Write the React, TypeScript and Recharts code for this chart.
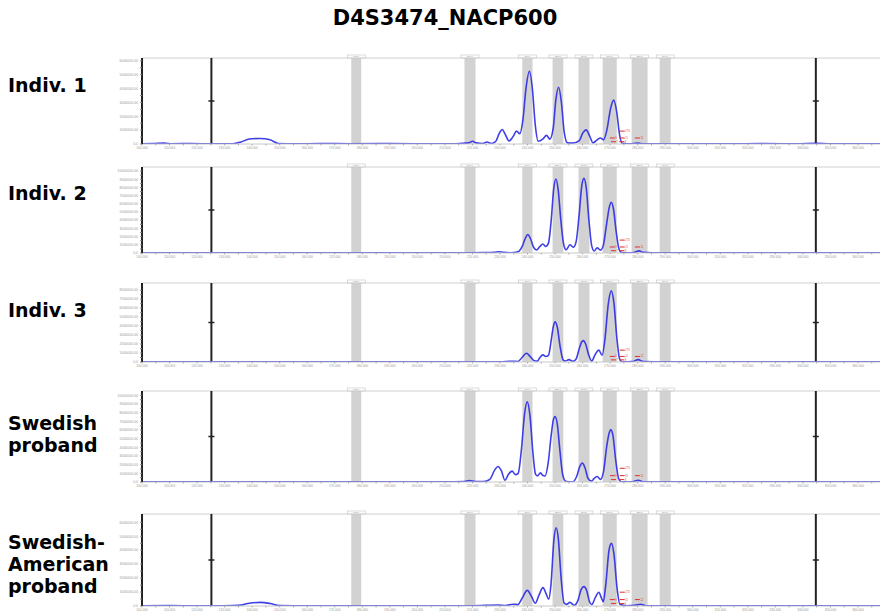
import { ComposedChart, Line, XAxis, YAxis, ReferenceArea, ReferenceLine, Scatter } from "recharts"

const title = "D4S3474_NACP600"
const panelNames = [["Indiv. 1"], ["Indiv. 2"], ["Indiv. 3"], ["Swedish", "proband"], ["Swedish-", "American", "proband"]]

// y-axis top value and number of labelled steps, per panel
const yTops = [6.2, 10.5, 8.8, 10.5, 6.6]
const yTickCounts = [6, 10, 8, 10, 6]

// allele bins (bp)
const bins = [[176.0, 179.6], [217.1, 221.1], [238.1, 241.8], [249.1, 253.0], [258.5, 262.5], [267.3, 272.4], [277.8, 283.6], [288.0, 292.0]]
const binNames = ["176.0", "219.0", "240.0", "251.0", "260.5", "270.0", "280.5", "290.0"]
const sizeMarkers = [125.2, 344.7]
const xTicks = [100, 105, 110, 115, 120, 125, 130, 135, 140, 145, 150, 155, 160, 165, 170, 175, 180, 185, 190, 195, 200, 205, 210, 215, 220, 225, 230, 235, 240, 245, 250, 255, 260, 265, 270, 275, 280, 285, 290, 295, 300, 305, 310, 315, 320, 325, 330, 335, 340, 345, 350, 355, 360, 365]

// red size calls near the last allele (x in bp, level as share of the panel height)
const redMarkX = [274.4, 270.8, 274.4, 271.2, 274.2, 279.9]
const redMarkLevel = [0.15, 0.07, 0.07, 0.027, 0.027, 0.07]
const redMarkText = ["273", "9", "11", "7", "8", "12"]

const indiv1 = [[100,0.02],[104,0.03],[108,0.06],[111,0.02],[118,0.03],[125,0.01],[133,0.02],[136,0.15],[139,0.36],[143,0.4],[146.5,0.3],[149.5,0.04],[155,0.01],[165,0.03],[176,0.02],[190,0.03],[205,0.01],[214,0.02],[218.6,0.08],[220,0.2],[221.4,0.08],[223.8,0.04],[225.3,0.14],[226.8,0.04],[228.5,0.2],[229.7,0.75],[230.8,1.05],[231.9,0.7],[233.3,0.22],[234.8,0.55],[236,0.93],[237.2,0.75],[238.3,1.7],[239.5,4.1],[240.7,5.24],[241.8,3.9],[242.8,1.4],[243.9,0.2],[245.5,0.35],[246.9,0.62],[248.1,0.35],[249.3,1.1],[250.3,3.2],[251.3,4.09],[252.3,3.0],[253.3,0.9],[254.5,0.08],[256.5,0.06],[258.8,0.25],[260.1,0.8],[261.3,1.02],[262.5,0.6],[263.8,0.08],[265.3,0.3],[266.5,0.43],[267.6,0.3],[268.8,1.0],[270.2,2.6],[271.3,3.16],[272.4,2.3],[273.4,0.7],[274.4,0.05],[277,0.01],[280.2,0.06],[282,0.01],[295,0.02],[310,0.01],[325,0.03],[338,0.01],[344.7,0.05],[350,0.01],[360,0.02],[368,0.01]]
const indiv2 = [[100,0.03],[112,0.02],[125,0.01],[140,0.03],[160,0.02],[180,0.01],[200,0.02],[215,0.01],[224,0.05],[228,0.1],[229.6,0.16],[231.2,0.08],[234,0.03],[236.5,0.15],[238.2,0.9],[239.2,1.8],[240.1,2.26],[241,1.8],[242.2,0.7],[243.3,0.37],[244.5,0.8],[245.6,1.1],[246.6,0.8],[247.6,1.2],[248.6,4.0],[249.5,7.8],[250.3,9.03],[251.1,7.8],[252.1,4.0],[253.1,1.1],[254,0.4],[255.4,1.0],[256.6,0.7],[257.6,1.3],[258.7,4.5],[259.7,8.2],[260.5,9.11],[261.3,8.0],[262.3,4.0],[263.3,0.9],[264.2,0.25],[265.3,0.63],[266.5,0.35],[267.5,0.9],[268.7,3.5],[269.7,5.6],[270.4,6.2],[271.2,5.4],[272.2,2.6],[273.2,0.5],[274.2,0.05],[277,0.02],[279,0.1],[280.5,0.26],[282,0.08],[285,0.02],[300,0.01],[320,0.02],[345,0.01],[368,0.02]]
const indiv3 = [[100,0.02],[130,0.01],[160,0.02],[200,0.01],[220,0.02],[230,0.03],[234.4,0.09],[236.5,0.06],[238,0.5],[239.6,0.97],[241,0.6],[242.4,0.15],[243.6,0.1],[244.5,0.5],[245.6,0.79],[246.6,0.62],[247.6,0.75],[248.6,2.4],[249.4,4.0],[250,4.49],[250.8,3.9],[251.8,1.8],[252.9,0.25],[253.7,0.1],[255,0.26],[256.5,0.08],[257.6,0.3],[258.8,1.5],[259.7,2.25],[260.3,2.38],[261.1,2.0],[262.2,0.8],[263.3,0.1],[264.5,0.8],[265.9,1.32],[267.1,0.75],[268.1,2.5],[269.3,6.4],[270.4,7.92],[271.4,6.5],[272.4,2.8],[273.4,0.4],[274.3,0.03],[278,0.05],[280.2,0.26],[282,0.05],[290,0.01],[310,0.02],[340,0.01],[368,0.02]]
const swedish = [[100,0.03],[130,0.02],[160,0.01],[190,0.02],[210,0.01],[217,0.06],[219,0.16],[221,0.05],[224,0.05],[226.3,0.3],[228.1,1.4],[229.3,1.79],[230.5,1.3],[231.8,0.2],[233.1,0.9],[234.4,1.26],[235.6,0.85],[236.6,1.0],[237.8,3.8],[238.9,7.8],[239.9,9.24],[240.9,7.6],[241.9,3.6],[242.9,0.9],[243.6,0.7],[244.7,1.05],[245.6,0.75],[246.4,0.7],[247.5,2.2],[248.6,5.4],[249.4,7.2],[250,7.56],[250.8,6.7],[251.8,3.5],[252.8,0.8],[254,0.05],[256.5,0.03],[257.8,0.6],[259,1.8],[259.9,2.2],[260.8,1.7],[262,0.4],[263.2,0.1],[264.3,0.45],[265.3,0.63],[266.5,0.3],[267.6,1.2],[268.8,4.2],[269.7,5.7],[270.2,6.04],[271,5.4],[272,2.6],[273,0.5],[274,0.03],[278,0.03],[280.2,0.21],[282,0.03],[300,0.02],[330,0.01],[368,0.02]]
const swedishAmerican = [[100,0.02],[110,0.03],[120,0.01],[130,0.02],[135,0.05],[139,0.2],[143,0.26],[146.5,0.18],[150,0.03],[160,0.01],[175,0.02],[200,0.01],[220,0.02],[229.5,0.07],[232,0.03],[234.8,0.13],[236.5,0.1],[238,0.55],[239.9,1.12],[241.4,0.7],[242.8,0.2],[244.2,0.8],[245.6,1.32],[246.8,0.85],[247.7,0.48],[248.5,1.5],[249.6,4.8],[250.4,5.61],[251.2,4.8],[252.2,2.0],[253.3,0.2],[254.2,0.12],[255.4,0.26],[257,0.05],[258.3,0.4],[259.5,1.2],[260.5,1.39],[261.5,1.1],[262.5,0.3],[263.3,0.1],[264.6,0.6],[265.9,0.99],[266.8,0.6],[267.5,0.3],[268.4,1.5],[269.6,4.0],[270.5,4.49],[271.4,3.7],[272.5,1.3],[273.6,0.1],[276,0.02],[279,0.05],[281.1,0.13],[283,0.02],[300,0.01],[330,0.02],[368,0.01]]

const traces = [indiv1, indiv2, indiv3, swedish, swedishAmerican]

// plot-area top / baseline in page pixels, and first label line centre
const frames = [
  { top: 58, bottom: 144, labelY: 85 },
  { top: 167, bottom: 253, labelY: 193 },
  { top: 283, bottom: 362, labelY: 310 },
  { top: 391, bottom: 482, labelY: 423 },
  { top: 514, bottom: 606, labelY: 542 },
]

const tinyFont = "Arial, sans-serif"

function RedMark(p: any) {
  const { cx, cy, payload } = p
  return (
    <g>
      <line x1={cx - 2.5} x2={cx + 2.5} y1={cy} y2={cy} stroke="#e23a3a" strokeWidth={1.1} />
      <text x={cx + 3} y={cy + 1} fontSize={2.6} fill="#e23a3a" fontFamily={tinyFont}>{payload.t}</text>
    </g>
  )
}

function Panel({ idx }: { idx: number }) {
  const f = frames[idx]
  const yTop = yTops[idx]
  const mt = 6
  const xh = 5
  const h = f.bottom - f.top + mt + xh
  const yTicks: number[] = []
  for (let i = 0; i <= yTickCounts[idx] * 2; i++) yTicks.push(i / 2)
  const data = traces[idx].map(([x, y]) => ({ x, y }))
  const marks = redMarkX.map((x, i) => ({ x, y: redMarkLevel[i] * yTop, t: redMarkText[i] }))
  return (
    <div style={{ position: "absolute", left: 0, top: f.top - mt }}>
      <ComposedChart width={883} height={h} margin={{ top: mt, right: 3, bottom: 0, left: 112 }}>
        <XAxis type="number" dataKey="x" domain={[100, 368]} ticks={xTicks} interval={0} allowDataOverflow
          height={xh} tickSize={1.5} axisLine={{ stroke: "#c8c8c8" }} tickLine={{ stroke: "#aaa" }}
          tick={{ fontSize: 3.2, fill: "#999", fontFamily: tinyFont, dy: -1 }}
          tickFormatter={(v: number) => (v % 10 === 0 ? v.toFixed(3) : "")} />
        <YAxis type="number" domain={[0, yTop]} ticks={yTicks} interval={0} allowDataOverflow width={30}
          tickSize={2} axisLine={{ stroke: "#222", strokeWidth: 2 }} tickLine={{ stroke: "#888" }}
          tick={{ fontSize: 3.5, fill: "#999", fontFamily: tinyFont }}
          tickFormatter={(v: number) => (Number.isInteger(v) ? (v === 0 ? "0.0" : String(v * 1000000) + ".00") : "")} />
        {bins.map((b, i) => (
          <ReferenceArea key={i} x1={b[0]} x2={b[1]} fill="#d2d2d2" fillOpacity={1} stroke="none" ifOverflow="visible"
            label={(lp: any) => {
              const vb = lp.viewBox
              const cx = vb.x + vb.width / 2
              return (
                <g>
                  <rect x={cx - 9} y={vb.y - 3} width={18} height={3} fill="#fff" stroke="#b8b8b8" strokeWidth={0.5} />
                  <text x={cx} y={vb.y - 0.7} fontSize={2.3} textAnchor="middle" fill="#888" fontFamily={tinyFont}>{binNames[i]}</text>
                </g>
              )
            }} />
        ))}
        <ReferenceLine y={yTop} stroke="#d0d0d0" strokeWidth={1} ifOverflow="visible" />
        {sizeMarkers.map((m, i) => (
          <ReferenceLine key={i} x={m} stroke="#222" strokeWidth={2}
            label={(lp: any) => {
              const vb = lp.viewBox
              const my = vb.y + vb.height / 2
              return <line x1={vb.x - 3} x2={vb.x + 3} y1={my} y2={my} stroke="#222" strokeWidth={1.5} />
            }} />
        ))}
        <Line data={data} dataKey="y" type="monotone" dot={false} stroke="#2a2ae6" strokeWidth={1.6}
          strokeOpacity={0.9} isAnimationActive={false} />
        <Scatter data={marks} dataKey="y" shape={RedMark} isAnimationActive={false} />
      </ComposedChart>
    </div>
  )
}

export default function App() {
  return (
    <div style={{ position: "absolute", left: 0, top: 0, width: 883, height: 611, overflow: "hidden", background: "#fff" }}>
      <div style={{ position: "absolute", left: 0, width: 890, top: 6, textAlign: "center", fontFamily: "'DejaVu Sans', sans-serif", fontWeight: "bold", fontSize: 21 }}>
        {title}
      </div>
      {panelNames.map((lines, i) => (
        <div key={i} style={{ position: "absolute", left: 8, top: frames[i].labelY - 11, fontFamily: "'DejaVu Sans', sans-serif", fontWeight: "bold", fontSize: 19, lineHeight: "22px" }}>
          {lines.map((l, j) => <div key={j}>{l}</div>)}
        </div>
      ))}
      {traces.map((_, i) => <Panel key={i} idx={i} />)}
    </div>
  )
}
